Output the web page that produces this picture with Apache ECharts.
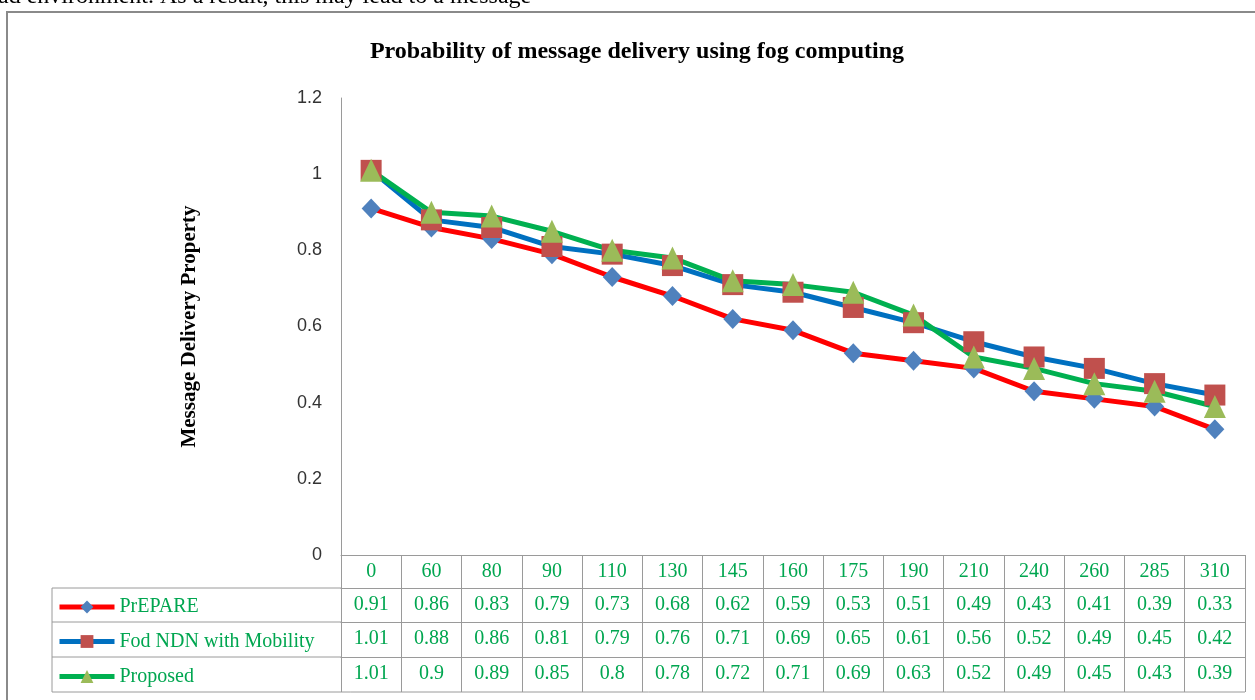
<!DOCTYPE html>
<html><head><meta charset="utf-8">
<script src="https://cdn.jsdelivr.net/npm/echarts@6/dist/echarts.min.js"></script>
<style>html,body{margin:0;padding:0;background:#fff}#c{width:1255px;height:700px}</style>
</head><body><div id="c"></div>
<script>
const categories = ['0','60','80','90','110','130','145','160','175','190','210','240','260','285','310'];
const prepare  = [0.91,0.86,0.83,0.79,0.73,0.68,0.62,0.59,0.53,0.51,0.49,0.43,0.41,0.39,0.33];
const fodNdn   = [1.01,0.88,0.86,0.81,0.79,0.76,0.71,0.69,0.65,0.61,0.56,0.52,0.49,0.45,0.42];
const proposed = [1.01,0.9,0.89,0.85,0.8,0.78,0.72,0.71,0.69,0.63,0.52,0.49,0.45,0.43,0.39];
const seriesNames = ['PrEPARE','Fod NDN with Mobility','Proposed'];

const GREEN = '#00a650';
const BORDER = '#9a9a9a';
const SERIF = '"Liberation Serif","DejaVu Serif",serif';
const rowH = [33, 34, 35, 35];

const chart = echarts.init(document.getElementById('c'), null, {renderer:'canvas'});

function rowAxis(data, offset, idx) {
  return {
    type:'category', data:data, position:'bottom', offset:offset, boundaryGap:true,
    axisLine:{show:true, lineStyle:{color:BORDER, width:1}},
    axisTick:{show:true, interval:0, length:rowH[idx], lineStyle:{color:BORDER, width:1}},
    axisLabel:{show:true, interval:0, margin:7, color:GREEN, fontFamily:SERIF, fontSize:20},
    splitLine:{show:false}
  };
}

const tableRows = [prepare, fodNdn, proposed];
const xAxes = [rowAxis(categories, 0, 0)];
let off = rowH[0];
tableRows.forEach((r, i) => { xAxes.push(rowAxis(r.map(String), off, i+1)); off += rowH[i+1]; });

const lineColors = ['#ff0000','#0070c0','#00b050'];
const markerColors = ['#4f81bd','#c0504d','#9bbb59'];
const symbols = ['diamond','rect','triangle'];
const symbolSizes = [[19,20],[21,21],[22,23]];

const gridTop = 98, gridBottomY = 555;
const tableBottom = gridBottomY + rowH.reduce((a,b)=>a+b,0);
const legendLeft = 52, gridLeft = 341;

const graphics = [
  {type:'rect', shape:{x:7,y:12,width:1320,height:760}, style:{fill:'none', stroke:'#8a8a8a', lineWidth:2}, z:-1, silent:true},
  {type:'text', left:-2, top:-15, style:{text:'ad environment. As a result, this may lead to a message', font:'24px '+SERIF, fill:'#000'}, silent:true},
  {type:'line', shape:{x1:legendLeft,y1:tableBottom,x2:1245,y2:tableBottom}, style:{stroke:BORDER,lineWidth:1}, silent:true},
  {type:'line', shape:{x1:legendLeft,y1:gridBottomY+rowH[0],x2:legendLeft,y2:tableBottom}, style:{stroke:BORDER,lineWidth:1}, silent:true}
];
let yy = gridBottomY + rowH[0];
for (let i=0;i<3;i++){
  graphics.push({type:'line', shape:{x1:legendLeft,y1:yy,x2:gridLeft,y2:yy}, style:{stroke:BORDER,lineWidth:1}, silent:true});
  yy += rowH[i+1];
}

const legends = [];
let ly = gridBottomY + rowH[0];
for (let i=0;i<3;i++){
  legends.push({
    data:[seriesNames[i]], left:52, top: ly + rowH[i+1]/2 - 13, orient:'vertical',
    itemWidth:55, itemHeight:16, itemGap:0, selectedMode:false,
    lineStyle:{width:5},
    textStyle:{color:GREEN, fontFamily:SERIF, fontSize:20}
  });
  ly += rowH[i+1];
}

chart.setOption({
  animation:false,
  backgroundColor:'#fff',
  title:{text:'Probability of message delivery using fog computing', left:632, top:35, textAlign:'center',
    textStyle:{fontFamily:SERIF, fontWeight:'bold', fontSize:24, color:'#000'}},
  grid:{left:gridLeft, top:gridTop, right:10, bottom:700-gridBottomY, containLabel:false},
  legend:legends,
  xAxis:xAxes,
  yAxis:{type:'value', min:0, max:1.2, interval:0.2,
    name:'Message Delivery Property', nameLocation:'middle', nameGap:141, nameRotate:90,
    nameTextStyle:{fontFamily:SERIF, fontWeight:'bold', fontSize:21, color:'#000'},
    axisLine:{show:true, lineStyle:{color:BORDER, width:1}},
    axisTick:{show:false},
    axisLabel:{margin:19, color:'#333', fontFamily:'"Liberation Sans",Arial,sans-serif', fontSize:18},
    splitLine:{show:false}},
  series:tableRows.map((d,i)=>({
    name:seriesNames[i], type:'line', data:d, xAxisIndex:0,
    symbol:symbols[i], symbolSize:symbolSizes[i], showAllSymbol:true,
    lineStyle:{color:lineColors[i], width:5},
    itemStyle:{color:markerColors[i], borderWidth:0},
    emphasis:{disabled:true}
  })),
  graphic:graphics
});
</script></body></html>
